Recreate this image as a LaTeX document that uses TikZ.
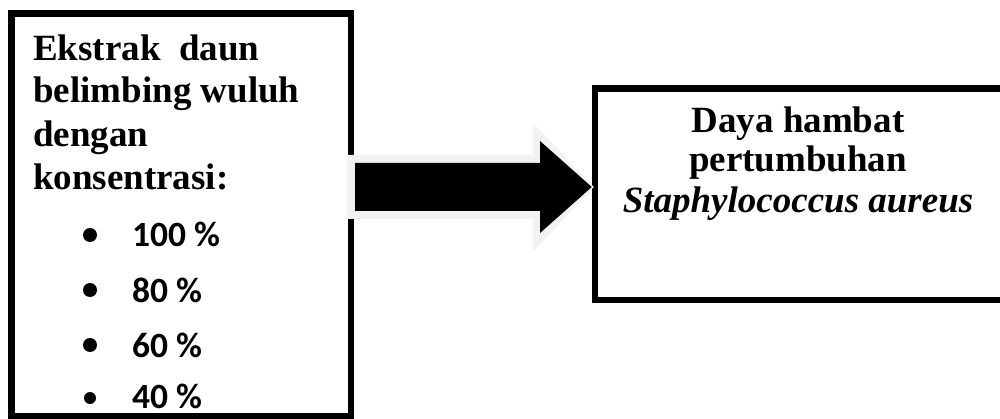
\documentclass[tikz,border=0pt]{standalone}
\usepackage{fontspec}
\usetikzlibrary{calc}
\setmainfont{Liberation Serif}
\newfontfamily\calib{Carlito}
\definecolor{halo}{HTML}{F2F2F2}
\begin{document}
\begin{tikzpicture}[x=1pt,y=-1pt,
  frame/.style={draw=black, line width=6.5pt, fill=white, inner sep=0pt},
  title/.style={anchor=base west, inner sep=0pt, font=\fontsize{37}{43}\selectfont\bfseries},
  result/.style={anchor=base, inner sep=0pt, font=\fontsize{37}{40}\selectfont\bfseries},
  item/.style={anchor=base west, inner sep=0pt, font=\calib\fontsize{35.5}{42}\selectfont\bfseries},
  dot/.style={circle, fill=black, inner sep=0pt, minimum size=14pt}]
\useasboundingbox (0,0) rectangle (1000,419);

% source box with the list of concentrations
\node[frame, minimum width=339.5pt, minimum height=402.5pt] (src) at (181.25,214.75) {};
\node[title] (t1) at (33,61) {Ekstrak\ \ daun};
\node[title] (t2) at (33,103) {belimbing wuluh};
\node[title] (t3) at (33,147) {dengan};
\node[title] (t4) at (33,190) {konsentrasi:};

\node[dot] (b1) at (90,235) {};
\node[dot] (b2) at (90,290) {};
\node[dot] (b3) at (90,345) {};
\node[dot, minimum size=12pt] (b4) at (90,398) {};
\node[item] (c1) at (132,247) {100 \%};
\node[item] (c2) at (132,302) {80 \%};
\node[item] (c3) at (132,357) {60 \%};
\node[item] (c4) at (132,408) {40 \%};

% target box
\node[frame, minimum width=420pt, minimum height=211.5pt] (dst) at (805,194.25) {};
\node[result] (r1) at (798,133) {Daya hambat};
\node[result] (r2) at (798,172) {pertumbuhan};
\node[result] (r3) at (798,213) {\itshape Staphylococcus aureus};

% block arrow from source to target, with a pale halo
\coordinate (tip) at (dst.west |- 0,187);
\fill[halo] (347,155) -- (533,155) -- (533,123) -- ($(tip)+(2,0)$) -- (533,252) -- (533,219) -- (347,219) -- cycle;
\fill[black] (355,163) -- (540,163) -- (540,141) -- (tip) -- (540,233) -- (540,211) -- (355,211) -- cycle;
\end{tikzpicture}
\end{document}
